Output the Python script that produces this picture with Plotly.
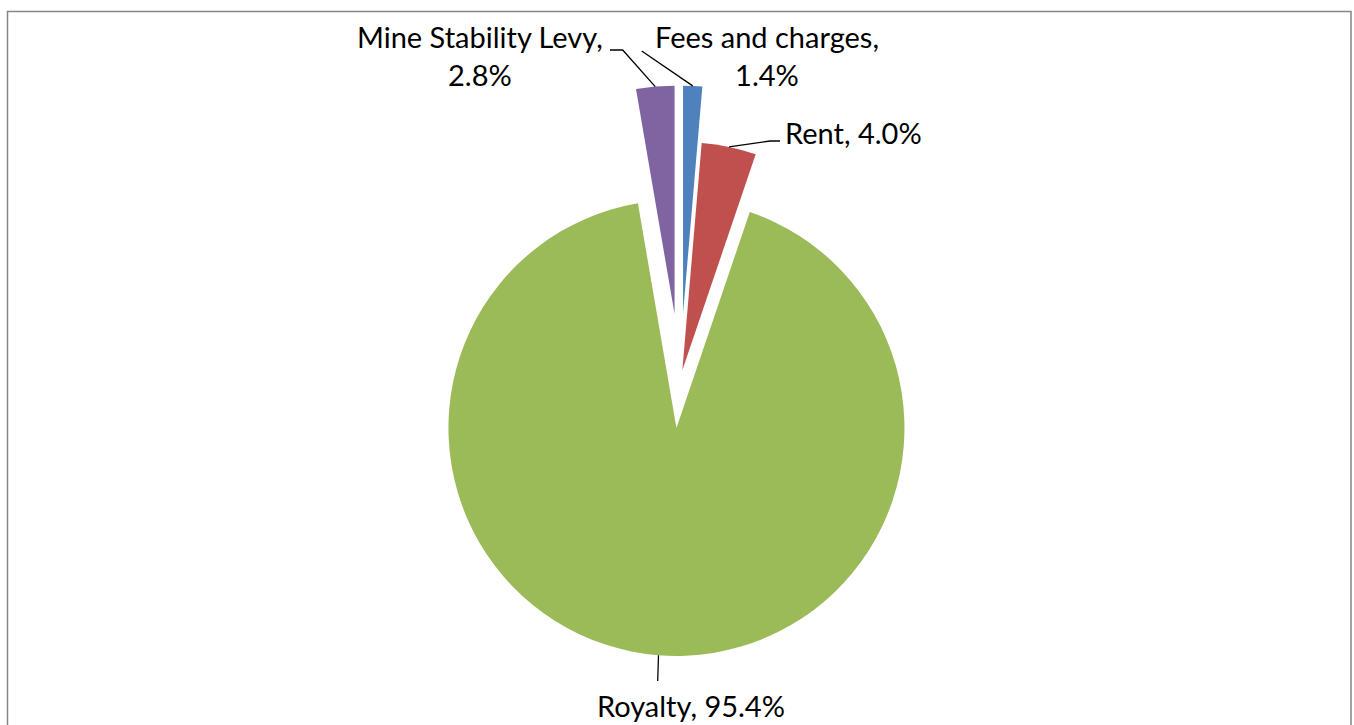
import math
import plotly.graph_objects as go

# Revenue components (values as published, shares of the total)
labels = ["Fees and charges", "Rent", "Royalty", "Mine Stability Levy"]
values = [1.4, 4.0, 95.4, 2.8]
colors = ["#4F81BD", "#C0504D", "#9BBB59", "#8064A2"]
pulls = [0.293, 0.046, 0.209, 0.293]

# Canvas and pie geometry (pixels)
W, H = 1354, 725
CX, CY = 680.2, 380.4
R = 228.0

FONT = "Lato"
FONT_SIZE = 29

# Where each data label sits and the bend points of its leader line (pixels)
label_centres = [(767, 56), (853, 132), (691, 705), (480, 56)]
label_breaks = [
    [(641.7, 51.0)],
    [(780.0, 141.0), (770.0, 141.0)],
    [(657.7, 681.0)],
    [(610.0, 50.0), (622.7, 50.0)],
]
label_two_lines = [True, False, False, True]


def px_x(x):
    return x / W


def px_y(y):
    return 1 - y / H


half = R * (1 + max(pulls))
domain_x = [px_x(CX - half), px_x(CX + half)]
domain_y = [px_y(CY + half), px_y(CY - half)]

fig = go.Figure(
    go.Pie(
        labels=labels,
        values=values,
        sort=False,
        direction="clockwise",
        rotation=0,
        pull=pulls,
        marker=dict(colors=colors, line=dict(width=0)),
        textinfo="none",
        hoverinfo="label+value",
        domain=dict(x=domain_x, y=domain_y),
        showlegend=False,
    )
)

# Outer-arc midpoint of every (pulled) slice, where the leader lines end
total = sum(values)
cum = 0.0
arc_mids = []
for v, p in zip(values, pulls):
    mid = math.radians((cum + v / 2) / total * 360.0)
    cum += v
    reach = R * (1 + p)
    arc_mids.append((CX + reach * math.sin(mid), CY - reach * math.cos(mid)))

shapes = []
annotations = []
for lab, val, centre, breaks, two, end in zip(
    labels, values, label_centres, label_breaks, label_two_lines, arc_mids
):
    pts = breaks + [end]
    path = "M {} {}".format(px_x(pts[0][0]), px_y(pts[0][1]))
    for x, y in pts[1:]:
        path += " L {} {}".format(px_x(x), px_y(y))
    shapes.append(
        dict(type="path", xref="paper", yref="paper", path=path,
             line=dict(color="#000000", width=1.3))
    )
    sep = ",<br>" if two else ", "
    annotations.append(
        dict(
            x=px_x(centre[0]), y=px_y(centre[1]),
            xref="paper", yref="paper",
            xanchor="center", yanchor="middle",
            text="{}{}{:.1f}%".format(lab, sep, val),
            showarrow=False, align="center",
            font=dict(family=FONT, size=FONT_SIZE, color="#000000"),
        )
    )

# Chart-area frame
shapes.append(
    dict(type="rect", xref="paper", yref="paper",
         x0=px_x(7.5), x1=px_x(1351.0), y0=px_y(760), y1=px_y(11.5),
         line=dict(color="#868686", width=1.5), fillcolor="rgba(0,0,0,0)")
)

fig.update_layout(
    width=W, height=H,
    margin=dict(l=0, r=0, t=0, b=0),
    paper_bgcolor="#FFFFFF",
    plot_bgcolor="#FFFFFF",
    shapes=shapes,
    annotations=annotations,
    font=dict(family=FONT),
)

fig.write_html("out.html")
